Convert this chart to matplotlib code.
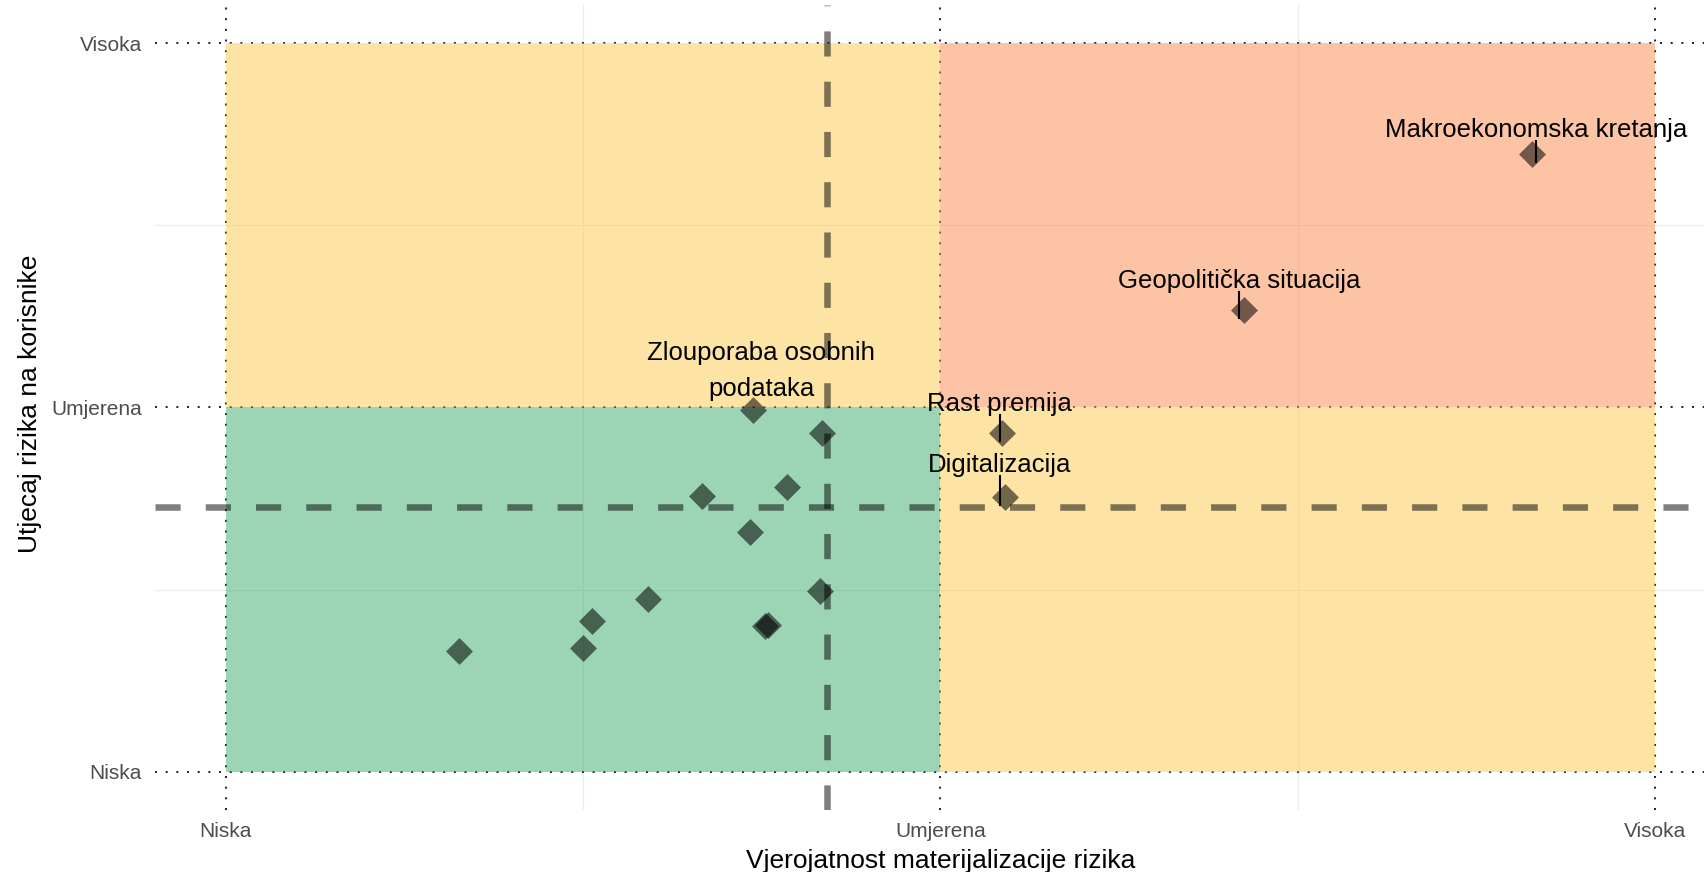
import numpy as np
import matplotlib.pyplot as plt
from matplotlib.patches import Rectangle

# rizici (prazno ime = bez oznake)
rizici = ["Makroekonomska kretanja", "Geopolitička situacija", "Rast premija",
          "Digitalizacija", "Zlouporaba osobnih\npodataka",
          "", "", "", "", "", "", "", "", "", "", ""]
vjerojatnost = [2.828, 2.425, 2.086, 2.090, 1.738,
                1.835, 1.786, 1.667, 1.733, 1.591, 1.513, 1.500, 1.326,
                1.754, 1.759, 1.831]
utjecaj = [2.697, 2.267, 1.929, 1.754, 1.992,
           1.929, 1.782, 1.756, 1.658, 1.473, 1.413, 1.341, 1.332,
           1.399, 1.403, 1.497]
razine = ["Niska", "Umjerena", "Visoka"]

plt.rcParams['font.family'] = ['Liberation Sans', 'DejaVu Sans']

DPI = 100
fig = plt.figure(figsize=(17.06, 8.72), dpi=DPI)
ax = fig.add_axes([0.0909, 0.0711, 0.9080, 0.9232])
ax.set_xlim(0.901, 3.069)
ax.set_ylim(0.895, 3.105)
for s in ax.spines.values():
    s.set_visible(False)

# mreza
for v in [1.5, 2.5]:
    ax.axvline(v, color='#ebebeb', lw=0.9, zorder=0)
    ax.axhline(v, color='#ebebeb', lw=0.9, zorder=0)
for v in [1, 2, 3]:
    ax.axvline(v, color='#1f2937', lw=1.45, ls=(0, (1, 4.3)), zorder=0.5)
    ax.axhline(v, color='#1f2937', lw=1.45, ls=(0, (1, 4.3)), zorder=0.5)

# kvadranti
zelena, zuta, crvena = '#3aad6d', '#fdc94b', '#fd894d'
ax.add_patch(Rectangle((1, 1), 1, 1, fc=zelena, alpha=0.5, lw=0, zorder=1))
ax.add_patch(Rectangle((1, 2), 1, 1, fc=zuta, alpha=0.5, lw=0, zorder=1))
ax.add_patch(Rectangle((2, 1), 1, 1, fc=zuta, alpha=0.5, lw=0, zorder=1))
ax.add_patch(Rectangle((2, 2), 1, 1, fc=crvena, alpha=0.5, lw=0, zorder=1))

# prosjeci
ax.axvline(np.mean(vjerojatnost), color='black', alpha=0.5, lw=4.7,
           ls=(0, (3.85, 3.85)), zorder=2)
ax.axhline(np.mean(utjecaj), color='black', alpha=0.5, lw=4.7,
           ls=(0, (3.85, 3.85)), zorder=2)

ax.scatter(vjerojatnost, utjecaj, marker='D', s=188, c='black', alpha=0.55,
           lw=0, zorder=3)

# oznake: pomak x, razmak baseline iznad tocke (px), crta
oznake = {
    "Makroekonomska kretanja": (4, 17, True),
    "Geopolitička situacija": (-5, 22, True),
    "Rast premija": (-2, 22, True),
    "Digitalizacija": (-5, 25, True),
    "Zlouporaba osobnih\npodataka": (8, 9, False),
}
inv = ax.transData.inverted()
for ime, x, y in zip(rizici, vjerojatnost, utjecaj):
    if not ime:
        continue
    dx, dy, crta = oznake[ime]
    px, py = ax.transData.transform((x, y))
    va = 'baseline' if '\n' not in ime else 'bottom'
    tx, ty = inv.transform((px + dx, py + dy))
    ax.text(tx, ty, ime, ha='center', va=va, fontsize=18.5, color='black',
            linespacing=1.65, zorder=5)
    if crta:
        x0, y0 = inv.transform((px + dx, py + dy - 4))
        x1, y1 = inv.transform((px + dx, py - 8))
        ax.plot([x0, x1], [y0, y1], color='black', lw=1.5, zorder=4)

ax.set_xticks([1, 2, 3], razine)
ax.set_yticks([1, 2, 3], razine)
ax.tick_params(axis='x', length=0, labelsize=15, labelcolor='#4d4d4d', pad=8.5)
ax.tick_params(axis='y', length=0, labelsize=15, labelcolor='#4d4d4d', pad=9.4)

fig.text(941 / 1706, 1 - 868 / 872, "Vjerojatnost materijalizacije rizika",
         ha='center', va='baseline', fontsize=19)
fig.text(37 / 1706, 1 - 404 / 872, "Utjecaj rizika na korisnike",
         ha='center', va='baseline', rotation=90, rotation_mode='anchor',
         fontsize=19)

fig.savefig("out.png", dpi=DPI)
